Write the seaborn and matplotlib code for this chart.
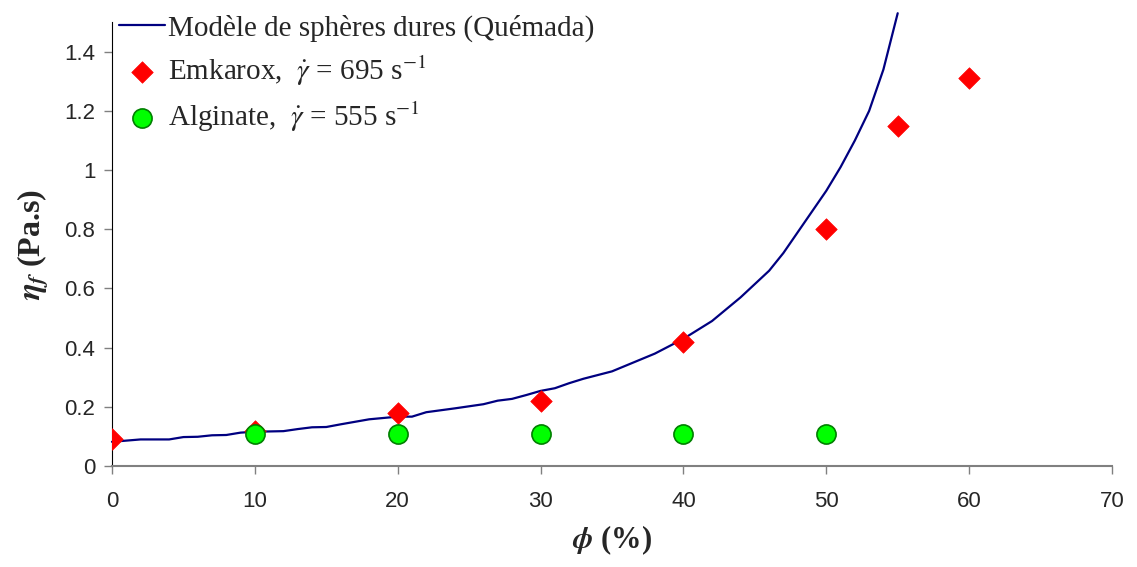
import matplotlib
matplotlib.use("Agg")
import matplotlib.pyplot as plt
import seaborn as sns
import pandas as pd

# Quemada hard-sphere model curve
phi_model = [0, 2, 4, 5, 6, 7, 8, 9, 10, 12, 13, 14, 15, 16, 18, 20, 21, 22, 24, 26, 27, 28, 29, 30,
             31, 32, 33, 35, 36, 38, 40, 41, 42, 43, 44, 45, 46, 47, 48, 49, 50, 51, 52, 53, 54, 55]
eta_model = [0.082, 0.090, 0.090, 0.098, 0.099, 0.104, 0.105, 0.113, 0.116, 0.118, 0.125, 0.131, 0.132,
             0.141, 0.158, 0.167, 0.167, 0.182, 0.195, 0.209, 0.221, 0.227, 0.240, 0.254, 0.263, 0.280,
             0.295, 0.32, 0.34, 0.38, 0.43, 0.46, 0.49, 0.53, 0.57, 0.615, 0.66, 0.72, 0.79, 0.86,
             0.93, 1.01, 1.10, 1.20, 1.34, 1.53]

# measurements
phi_emk = [0, 10, 20, 30, 40, 50, 55, 60]
eta_emk = [0.09, 0.12, 0.18, 0.22, 0.42, 0.80, 1.15, 1.31]
phi_alg = [10, 20, 30, 40, 50]
eta_alg = [0.11, 0.11, 0.11, 0.11, 0.11]

labels = ["Modèle de sphères dures (Quémada)",
          r"Emkarox,  $\dot{\gamma}$ = 695 s$^{\mathrm{-1}}$",
          r"Alginate,  $\dot{\gamma}$ = 555 s$^{\mathrm{-1}}$"]

df_model = pd.DataFrame({"phi": phi_model, "eta": eta_model})
df_emk = pd.DataFrame({"phi": phi_emk, "eta": eta_emk})
df_alg = pd.DataFrame({"phi": phi_alg, "eta": eta_alg})

sns.set_style("ticks")
plt.rcParams["font.family"] = ["Liberation Sans", "DejaVu Sans"]
plt.rcParams["mathtext.fontset"] = "stix"

fig = plt.figure(figsize=(11.37, 5.67), dpi=100)
ax = fig.add_axes([0.0985, 0.178, 0.8795, 0.783])

sns.lineplot(data=df_model, x="phi", y="eta", color="#000080", linewidth=1.6,
             label=labels[0], ax=ax, clip_on=False)
sns.scatterplot(data=df_emk, x="phi", y="eta", marker="D", color="#FF0000", s=120,
                edgecolor="#FF0000", linewidth=0.5, label=labels[1], ax=ax, zorder=3)
sns.scatterplot(data=df_alg, x="phi", y="eta", marker="o", color="#00FF00", s=190,
                edgecolor="#008000", linewidth=1.2, label=labels[2], ax=ax, zorder=4)

ax.set_xlim(0, 70)
ax.set_ylim(0, 1.5)
ax.set_xticks(range(0, 71, 10))
ax.set_yticks([0, 0.2, 0.4, 0.6, 0.8, 1, 1.2, 1.4])
ax.set_yticklabels(["0", "0.2", "0.4", "0.6", "0.8", "1", "1.2", "1.4"])
ax.tick_params(axis="both", labelsize=16, length=6, width=1, color="#808080", direction="out")
ax.tick_params(axis="x", pad=12)
ax.tick_params(axis="y", pad=6)

for side in ["top", "right"]:
    ax.spines[side].set_visible(False)
ax.spines["left"].set_color("black")
ax.spines["bottom"].set_color("#808080")
ax.spines["bottom"].set_linewidth(1.5)

ax.set_xlabel(r"$\mathbfit{\phi}$ (%)", fontsize=22, fontweight="bold",
              family=["Liberation Serif"], labelpad=8)
ax.set_ylabel(r"$\mathbfit{\eta_f}$ (Pa.s)", fontsize=23, fontweight="bold",
              family=["Liberation Serif"], labelpad=10)

leg = ax.legend(loc="upper left", bbox_to_anchor=(-0.008, 1.05), frameon=False,
                prop={"family": "Liberation Serif", "size": 21}, labelspacing=0.4,
                handlelength=1.6, handletextpad=0.1, borderaxespad=0.3, borderpad=0.2)

fig.savefig("out.png", dpi=100)
